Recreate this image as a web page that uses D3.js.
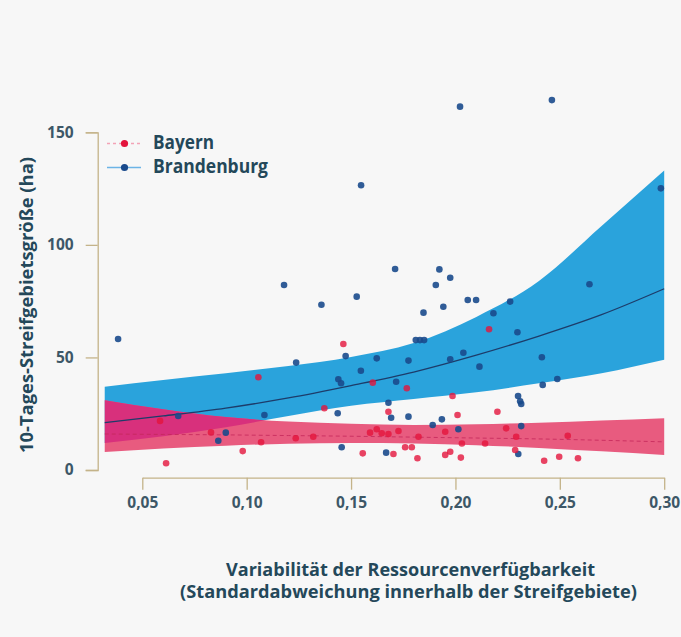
<!DOCTYPE html>
<html>
<head>
<meta charset="utf-8">
<script src="https://cdn.jsdelivr.net/npm/d3@7"></script>
<style>
  body { margin: 0; background: #f7f7f7; }
  svg { display: block; }
  text { font-family: "Open Sans", Lato, sans-serif; font-weight: 700; }
</style>
</head>
<body>
<svg id="chart" width="681" height="637"></svg>
<script>
// ---- data ----
const xTicks = [0.05, 0.10, 0.15, 0.20, 0.25, 0.30];
const yTicks = [0, 50, 100, 150];
const seriesNames = ["Bayern", "Brandenburg"];
const xTitle = ["Variabilität der Ressourcenverfügbarkeit", "(Standardabweichung innerhalb der Streifgebiete)"];
const yTitle = "10-Tages-Streifgebietsgröße (ha)";

// Bayern home ranges: variability vs. 10-day range size (ha)
const bayernX = [0.0614, 0.1463, 0.0981, 0.1069, 0.0829, 0.1235, 0.1319, 0.1556, 0.1591, 0.1623,
                 0.1647, 0.1679, 0.1056, 0.1372, 0.1604, 0.0585, 0.1986, 0.2010, 0.2201, 0.1679,
                 0.1767, 0.2161, 0.1727, 0.1823, 0.1759, 0.1791, 0.1703, 0.1818, 0.1951, 0.1975,
                 0.2026, 0.1951, 0.2031, 0.2142, 0.2243, 0.2291, 0.2286, 0.2425, 0.2497, 0.2587, 0.2538];
const bayernY = [3.0, 56.0, 8.4, 12.3, 16.7, 14.1, 14.8, 7.4, 16.6, 18.1,
                 16.3, 16.0, 41.2, 27.4, 38.8, 21.8, 32.9, 24.4, 25.9, 25.9,
                 36.3, 62.5, 17.3, 14.8, 10.1, 10.1, 7.1, 5.2, 6.7, 8.1,
                 5.5, 17.0, 11.8, 11.8, 18.5, 14.8, 8.9, 4.1, 5.9, 5.2, 15.2];

// Brandenburg home ranges
const brandenburgX = [0.0384, 0.1179, 0.1358, 0.1527, 0.1548, 0.1237, 0.1474, 0.1623, 0.1547, 0.1439,
                      0.1452, 0.1085, 0.1436, 0.1455, 0.2022, 0.2462, 0.2984, 0.1711, 0.1923, 0.1975,
                      0.1906, 0.1847, 0.1942, 0.2059, 0.2099, 0.2262, 0.2182, 0.2642, 0.2297, 0.1810,
                      0.1830, 0.1850, 0.1775, 0.1975, 0.2038, 0.2115, 0.2414, 0.2418, 0.2488, 0.1716,
                      0.1679, 0.1692, 0.1775, 0.1891, 0.1935, 0.2300, 0.2310, 0.2315, 0.2315, 0.2014,
                      0.1668, 0.2301, 0.0672, 0.0900, 0.0864];
const brandenburgY = [58.2, 82.2, 73.4, 77.0, 126.5, 47.7, 50.6, 49.6, 44.1, 40.3,
                      38.5, 24.4, 25.2, 10.1, 161.4, 164.3, 125.1, 89.3, 89.1, 85.4,
                      82.2, 69.9, 72.5, 75.5, 75.5, 74.8, 69.6, 82.5, 61.2, 57.7,
                      57.7, 57.7, 48.6, 49.2, 52.1, 45.9, 50.1, 37.8, 40.4, 39.2,
                      29.9, 23.2, 23.7, 20.0, 22.5, 32.9, 30.5, 29.3, 19.5, 18.1,
                      7.7, 7.1, 24.0, 16.6, 13.0];

// model fits with confidence bands, sampled along x
const fitX         = [0.032, 0.06, 0.09, 0.12, 0.15, 0.18, 0.21, 0.24, 0.27, 0.30];
const bayernFit    = [16.0, 15.8, 15.6, 15.3, 15.0, 14.6, 14.2, 13.8, 13.2, 12.5];
const bayernLow    = [8.0, 9.5, 10.8, 11.7, 12.0, 11.8, 11.0, 9.8, 8.3, 6.7];
const bayernHigh   = [31.0, 27.0, 23.5, 21.5, 20.5, 20.0, 20.3, 21.0, 22.0, 23.0];
const brandFit     = [21.0, 24.0, 27.5, 32.0, 37.5, 43.5, 51.0, 59.5, 69.0, 80.5];
const brandLow     = [12.0, 15.0, 19.0, 24.0, 28.5, 31.5, 34.5, 38.5, 43.0, 49.0];
const brandHigh    = [37.0, 40.0, 43.0, 46.2, 50.2, 56.4, 68.0, 84.0, 108.4, 133.0];

// ---- colours ----
const C = {
  text: "#24485a",
  tick: "#3d5767",
  axis: "#c4b389",
  red: "#e3143c",
  blue: "#194a8c",
  redBand: "#e85b7f",
  overlap: "#d8307c",
  blueBand: "#2aa3dc",
  blueLine: "#1d3c6a",
  redLine: "#c4275a"
};

// ---- scales ----
const x = d3.scaleLinear().domain([0.05, 0.30]).range([142.3, 664.2]);
const y = d3.scaleLinear().domain([0, 150]).range([470, 132.3]);

const svg = d3.select("#chart");

svg.append("rect").attr("width", 681).attr("height", 637).attr("fill", "#f7f7f7");

// axes
const yAxis = d3.axisLeft(y).tickValues(yTicks).tickSize(12).tickPadding(12)
  .tickFormat(d3.format("d"));
const gy = svg.append("g").attr("transform", "translate(97.7,0)").call(yAxis);
gy.selectAll("path, line").attr("stroke", C.axis).attr("stroke-width", 1.3);
gy.selectAll("text").attr("fill", C.tick).attr("font-size", 15.5)
  .style("font-family", "'Open Sans', sans-serif").style("font-weight", 700);

const fmt = v => d3.format(".2f")(v).replace(".", ",");
const xAxis = d3.axisBottom(x).tickValues(xTicks).tickSizeInner(12).tickSizeOuter(0).tickPadding(7)
  .tickFormat(fmt);
const gx = svg.append("g").attr("transform", "translate(0,477.7)").call(xAxis);
gx.selectAll("path, line").attr("stroke", C.axis).attr("stroke-width", 1.3);
gx.selectAll("text").attr("fill", C.tick).attr("font-size", 15.5)
  .style("font-family", "'Open Sans', sans-serif").style("font-weight", 700);

// confidence bands
const band = (lo, hi) => d3.area()
  .x((d, i) => x(fitX[i]))
  .y0((d, i) => y(lo[i]))
  .y1((d, i) => y(hi[i]))
  .curve(d3.curveMonotoneX)(fitX);

const blueBandPath = band(brandLow, brandHigh);
const redBandPath = band(bayernLow, bayernHigh);

svg.append("defs").append("clipPath").attr("id", "blue-band-clip")
  .append("path").attr("d", blueBandPath);

svg.append("path").attr("d", blueBandPath).attr("fill", C.blueBand);
svg.append("path").attr("d", redBandPath).attr("fill", C.redBand);
// where both bands overlap, the colours mix to a deeper magenta
svg.append("path").attr("d", redBandPath).attr("fill", C.overlap)
  .attr("clip-path", "url(#blue-band-clip)");

// fitted lines
const fitLine = vals => d3.line()
  .x((d, i) => x(fitX[i]))
  .y((d, i) => y(vals[i]))
  .curve(d3.curveMonotoneX)(fitX);

svg.append("path").attr("d", fitLine(bayernFit)).attr("fill", "none")
  .attr("stroke", C.redLine).attr("stroke-width", 1).attr("stroke-dasharray", "4,3").attr("opacity", 0.8);
svg.append("path").attr("d", fitLine(brandFit)).attr("fill", "none")
  .attr("stroke", C.blueLine).attr("stroke-width", 1.3);

// points
svg.append("g").selectAll("circle").data(brandenburgX).join("circle")
  .attr("cx", (d, i) => x(brandenburgX[i]))
  .attr("cy", (d, i) => y(brandenburgY[i]))
  .attr("r", 3.3).attr("fill", C.blue).attr("fill-opacity", 0.9);

svg.append("g").selectAll("circle").data(bayernX).join("circle")
  .attr("cx", (d, i) => x(bayernX[i]))
  .attr("cy", (d, i) => y(bayernY[i]))
  .attr("r", 3.3).attr("fill", C.red).attr("fill-opacity", 0.8);

// legend
const legend = svg.append("g");
const legRows = [
  { name: seriesNames[0], y: 143.5, w: 61, dot: C.red, line: "#f3a3b6", dash: "3,3" },
  { name: seriesNames[1], y: 167.5, w: 115, dot: C.blue, line: "#6cb4e6", dash: null }
];
legRows.forEach(r => {
  legend.append("line").attr("x1", 107).attr("x2", 141).attr("y1", r.y).attr("y2", r.y)
    .attr("stroke", r.line).attr("stroke-width", 1.5).attr("stroke-dasharray", r.dash);
  legend.append("circle").attr("cx", 124.5).attr("cy", r.y).attr("r", 3.6).attr("fill", r.dot);
  legend.append("text").attr("x", 153).attr("y", r.y + 5.5)
    .attr("font-size", 19).attr("fill", C.text)
    .attr("textLength", r.w).attr("lengthAdjust", "spacingAndGlyphs").text(r.name);
});

// axis titles
svg.append("text").attr("transform", "translate(33,305) rotate(-90)")
  .attr("text-anchor", "middle")
  .attr("font-size", 18).attr("fill", C.text)
  .attr("textLength", 296).attr("lengthAdjust", "spacingAndGlyphs").text(yTitle);

svg.append("text").attr("x", 410.5).attr("y", 576)
  .attr("text-anchor", "middle").attr("font-size", 17).attr("fill", C.text)
  .attr("textLength", 369).attr("lengthAdjust", "spacingAndGlyphs").text(xTitle[0]);
svg.append("text").attr("x", 408.5).attr("y", 597.5)
  .attr("text-anchor", "middle").attr("font-size", 17).attr("fill", C.text)
  .attr("textLength", 457).attr("lengthAdjust", "spacingAndGlyphs").text(xTitle[1]);
</script>
</body>
</html>
